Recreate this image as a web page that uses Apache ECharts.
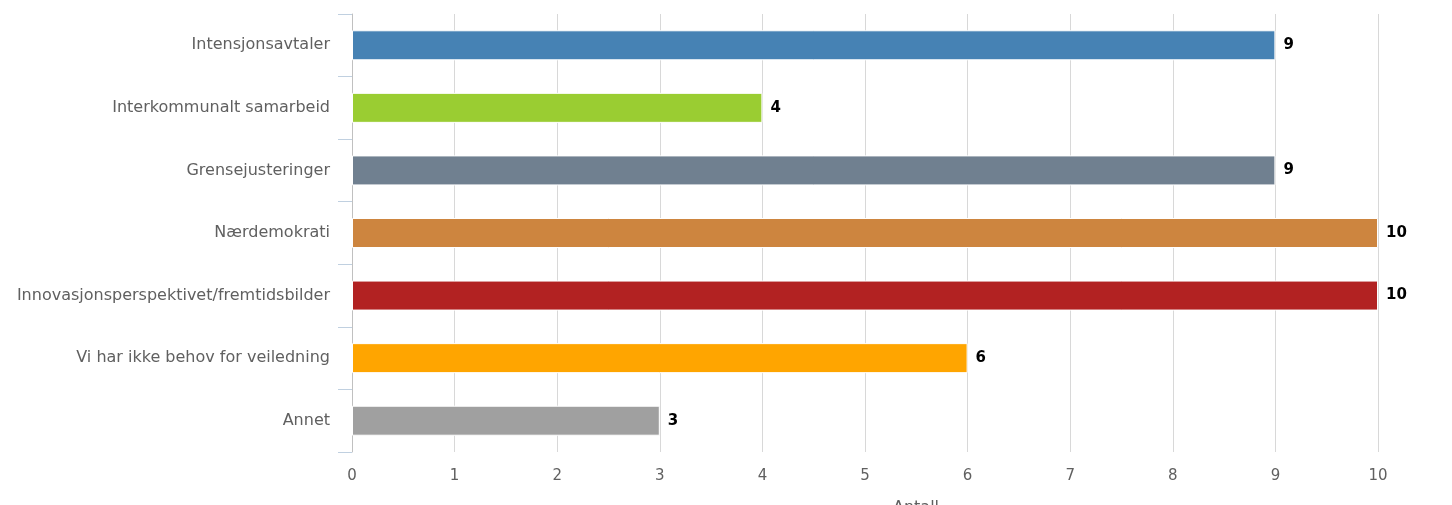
<!DOCTYPE html>
<html><head><meta charset="utf-8">
<script src="https://cdn.jsdelivr.net/npm/echarts@6/dist/echarts.min.js"></script>
<style>html,body{margin:0;padding:0;background:#fff}#c{width:1452px;height:505px}</style>
</head><body><div id="c"></div>
<script>
const categories = ["Intensjonsavtaler","Interkommunalt samarbeid","Grensejusteringer","Nærdemokrati","Innovasjonsperspektivet/fremtidsbilder","Vi har ikke behov for veiledning","Annet"];
const values = [9,4,9,10,10,6,3];
const colors = ["#4682B4","#9ACD32","#708090","#CD853F","#B22222","#FFA500","#A0A0A0"];
const xTicks = [0,10,1];
const axisTitle = "Antall";

const chart = echarts.init(document.getElementById('c'));
chart.setOption({
  animation:false,
  textStyle:{fontFamily:'DejaVu Sans'},
  grid:{left:352,right:74,top:14,bottom:53},
  xAxis:{type:'value',min:xTicks[0],max:xTicks[1],interval:xTicks[2],
    axisLine:{show:false},axisTick:{show:false},
    splitLine:{show:true,lineStyle:{color:'#D8D8D8',width:1}},
    axisLabel:{color:'#606060',fontSize:15,margin:17,fontFamily:'DejaVu Sans'}},
  yAxis:{type:'category',data:categories,inverse:true,
    axisLine:{show:true,lineStyle:{color:'#C0C0C0',width:1}},
    axisTick:{show:true,length:14,lineStyle:{color:'#C0D0E0'}},
    axisLabel:{color:'#606060',fontSize:16,margin:22,fontFamily:'DejaVu Sans'}},
  graphic:[{type:'text',left:893,top:500,style:{text:axisTitle,fill:'#606060',fontSize:16,fontFamily:'DejaVu Sans'}}],
  series:[{type:'bar',barWidth:30,
    data:values.map((v,i)=>({value:v,itemStyle:{color:colors[i]}})),
    itemStyle:{borderColor:'#ffffff',borderWidth:1},
    label:{show:true,position:'right',distance:8,color:'#000',fontWeight:'bold',fontSize:15,fontFamily:'DejaVu Sans'}}]
});
</script></body></html>
